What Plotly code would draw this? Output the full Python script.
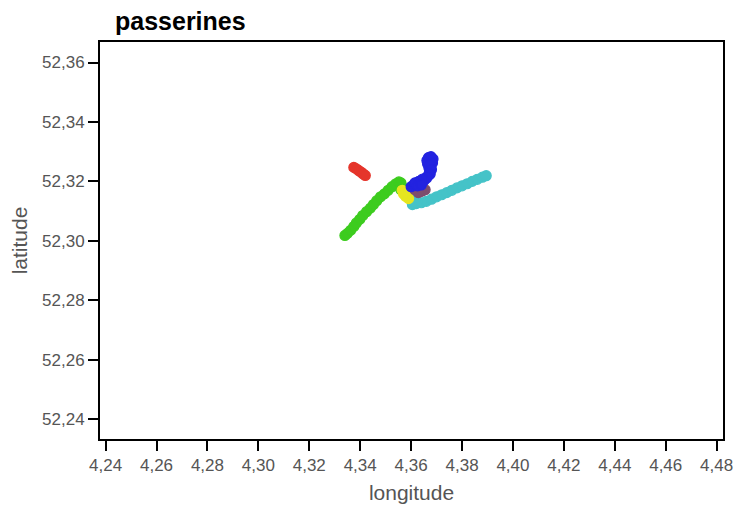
import plotly.graph_objects as go

red_lon = [4.3375, 4.3385, 4.3395, 4.3405, 4.3412, 4.3420]
red_lat = [52.3247, 52.3242, 52.3236, 52.3230, 52.3225, 52.3220]

green_lon = [4.3340, 4.3350, 4.3362, 4.3375, 4.3385, 4.3398, 4.3410, 4.3425, 4.3440, 4.3452,
             4.3465, 4.3480, 4.3495, 4.3510, 4.3525, 4.3540, 4.3552, 4.3560, 4.3562, 4.3560]
green_lat = [52.3018, 52.3025, 52.3035, 52.3048, 52.3060, 52.3072, 52.3085, 52.3098, 52.3110, 52.3122,
             52.3135, 52.3148, 52.3158, 52.3170, 52.3182, 52.3192, 52.3198, 52.3195, 52.3185, 52.3172]

cyan_lon = [4.3605, 4.3612, 4.3620, 4.3640, 4.3660, 4.3680, 4.3700, 4.3720, 4.3740, 4.3760,
            4.3780, 4.3800, 4.3820, 4.3840, 4.3860, 4.3880, 4.3895]
cyan_lat = [52.3122, 52.3135, 52.3125, 52.3128, 52.3133, 52.3140, 52.3148, 52.3155, 52.3162, 52.3170,
            52.3178, 52.3185, 52.3192, 52.3200, 52.3207, 52.3214, 52.3219]

yellow_lon = [4.3565, 4.3572, 4.3580, 4.3585, 4.3590, 4.3578, 4.3570]
yellow_lat = [52.3170, 52.3162, 52.3155, 52.3148, 52.3142, 52.3150, 52.3158]

purple_lon = [4.3615, 4.3625, 4.3635, 4.3645, 4.3655, 4.3640, 4.3628]
purple_lat = [52.3172, 52.3168, 52.3165, 52.3168, 52.3172, 52.3175, 52.3162]

blue_lon = [4.3600, 4.3612, 4.3625, 4.3638, 4.3650, 4.3660, 4.3668, 4.3672, 4.3670, 4.3665,
            4.3662, 4.3668, 4.3678, 4.3686, 4.3684, 4.3676, 4.3680, 4.3675, 4.3662, 4.3645,
            4.3630, 4.3615, 4.3625, 4.3640]
blue_lat = [52.3182, 52.3190, 52.3195, 52.3198, 52.3202, 52.3210, 52.3220, 52.3232, 52.3245, 52.3258,
            52.3270, 52.3280, 52.3283, 52.3275, 52.3262, 52.3255, 52.3240, 52.3225, 52.3215, 52.3208,
            52.3200, 52.3195, 52.3185, 52.3188]

x_ticks = [4.24, 4.26, 4.28, 4.30, 4.32, 4.34, 4.36, 4.38, 4.40, 4.42, 4.44, 4.46, 4.48]
y_ticks = [52.24, 52.26, 52.28, 52.30, 52.32, 52.34, 52.36]

series = [
    (red_lon, red_lat, "#e5352b"),
    (green_lon, green_lat, "#3dcc1f"),
    (cyan_lon, cyan_lat, "#45c3c8"),
    (yellow_lon, yellow_lat, "#e6e620"),
    (purple_lon, purple_lat, "#7d4d6e"),
    (blue_lon, blue_lat, "#2323e0"),
]

fig = go.Figure()
for lon, lat, col in series:
    fig.add_trace(go.Scatter(
        x=lon, y=lat, mode="markers",
        marker=dict(size=10, color=col, line=dict(width=1.2, color=col)),
        showlegend=False, hoverinfo="skip",
    ))

FONT = "Liberation Sans, Arial"
axis_common = dict(
    showline=True, linecolor="black", linewidth=2, mirror=True,
    ticks="outside", ticklen=10, tickwidth=1.5, tickcolor="black",
    showgrid=False, zeroline=False, tickformat=".2f",
    tickfont=dict(family=FONT, size=17, color="#555555"),
)

fig.update_layout(
    width=745, height=513,
    margin=dict(l=100, r=14, t=42, b=71),
    paper_bgcolor="white", plot_bgcolor="white",
    separators=",.",
    title=dict(text="<b>passerines</b>", x=115 / 745, xanchor="left", y=1 - 21 / 513, yanchor="middle",
               font=dict(family=FONT, size=25, color="black")),
    xaxis=dict(range=[4.2378, 4.4825], tickvals=x_ticks,
               title=dict(text="longitude", standoff=11,
                          font=dict(family=FONT, size=21, color="#555555")),
               **axis_common),
    yaxis=dict(range=[52.2333, 52.3669], tickvals=y_ticks,
               title=dict(text="latitude", standoff=9,
                          font=dict(family=FONT, size=21, color="#555555")),
               **axis_common),
)

fig.write_html("out.html")
